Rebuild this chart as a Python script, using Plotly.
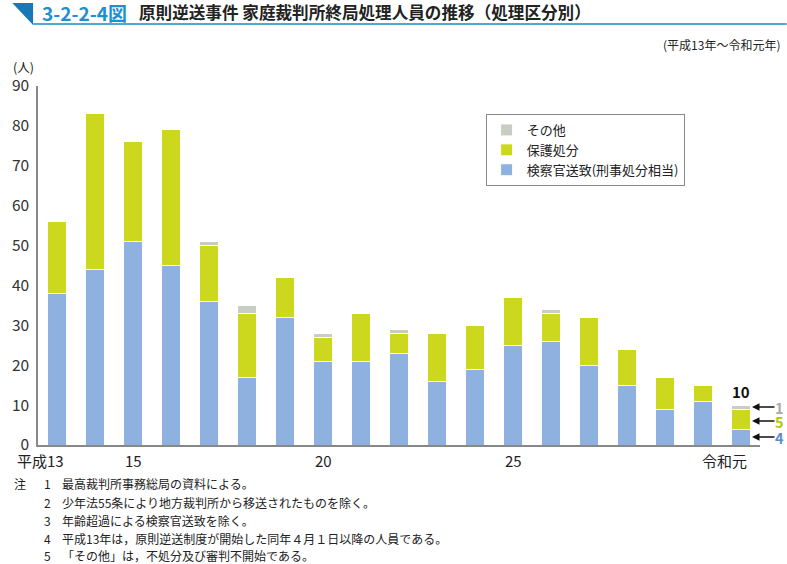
import plotly.graph_objects as go

years = ["平成13", "14", "15", "16", "17", "18", "19", "20", "21", "22",
         "23", "24", "25", "26", "27", "28", "29", "30", "令和元"]
tick_labels = ["平成13", "", "15", "", "", "", "", "20", "", "",
               "", "", "25", "", "", "", "", "", "令和元"]
prosecutor = [38, 44, 51, 45, 36, 17, 32, 21, 21, 23, 16, 19, 25, 26, 20, 15, 9, 11, 4]
protective = [18, 39, 25, 34, 14, 16, 10, 6, 12, 5, 12, 11, 12, 7, 12, 9, 8, 4, 5]
other = [0, 0, 0, 0, 1, 2, 0, 1, 0, 1, 0, 0, 0, 1, 0, 0, 0, 0, 1]

names = ["検察官送致(刑事処分相当)", "保護処分", "その他"]
colors = ["#8fb1e0", "#cbd81e", "#c9ccc2"]
FONT = "Noto Sans CJK JP"

xs = list(range(len(years)))
fig = go.Figure()
for i, (vals, nm, col) in enumerate(zip([prosecutor, protective, other], names, colors)):
    fig.add_trace(go.Bar(
        x=xs, y=vals, name=nm, legendgroup=str(i),
        marker=dict(color=col, line=dict(color="white", width=1)),
    ))

fig.update_layout(
    width=787, height=564,
    barmode="stack", bargap=0.48,
    plot_bgcolor="white", paper_bgcolor="white",
    margin=dict(l=30, r=27, t=86, b=119),
    font=dict(family=FONT, color="#222", size=14),
    showlegend=True,
    legend=dict(x=0.62, y=0.922, xanchor="left", yanchor="top",
                bordercolor="#888", borderwidth=1, bgcolor="white",
                traceorder="reversed", tracegroupgap=4,
                font=dict(size=13, family=FONT, color="#222")),
    xaxis=dict(range=[-0.5, 18.5], showticklabels=False,
               showline=True, linecolor="#888", linewidth=1.5, ticks="",
               showgrid=False, zeroline=False),
    yaxis=dict(range=[0, 90], dtick=10, showline=True, linecolor="#888", linewidth=1.5,
               showgrid=False, zeroline=False, ticks="", tickfont=dict(size=15.5, color="#333"),
               ticklabelstandoff=4),
)

# X tick labels (era prefix sits left of the year digit centred on the bar)
for xi, lab in zip(xs, tick_labels):
    if not lab:
        continue
    if lab.startswith("平成"):
        anchor, shift = "right", 9
    elif lab.startswith("令和"):
        anchor, shift = "right", 8
    else:
        anchor, shift = "center", 0
    fig.add_annotation(text=lab, x=xi, xref="x", y=0, yref="paper", xanchor=anchor,
                       xshift=shift, yanchor="middle", yshift=-15, showarrow=False,
                       font=dict(size=15, color="#222"))

# Title decoration
fig.add_shape(type="path", xref="paper", yref="paper",
              path="M -0.0356 1.2312 L -0.0068 1.2312 L -0.0068 1.1699 Z",
              fillcolor="#1a78b8", line=dict(width=0))
fig.add_shape(type="line", xref="paper", yref="paper",
              x0=-0.0068, x1=1.037, y0=1.1727, y1=1.1727,
              line=dict(color="#1a8ac4", width=1.5))
fig.add_annotation(text="<b>3-2-2-4図</b>", xref="paper", yref="paper",
                   x=(32 - 30) / 730, y=(445 - 12) / 359, xanchor="left", yanchor="middle",
                   showarrow=False, font=dict(size=19, color="#1f8fcf", family=FONT))
fig.add_annotation(text="<b>原則逆送事件 家庭裁判所終局処理人員の推移（処理区分別）</b>",
                   xref="paper", yref="paper",
                   x=(130 - 30) / 730, y=(445 - 12) / 359, xanchor="left", yanchor="middle",
                   showarrow=False, font=dict(size=16.6, color="#222", family=FONT))
fig.add_annotation(text="(平成13年～令和元年)", xref="paper", yref="paper",
                   x=(782 - 30) / 730, y=(445 - 45) / 359, xanchor="right", yanchor="middle",
                   showarrow=False, font=dict(size=12, color="#222", family=FONT))
fig.add_annotation(text="(人)", xref="paper", yref="paper",
                   x=(3 - 30) / 730, y=(445 - 67) / 359, xanchor="left", yanchor="middle",
                   showarrow=False, font=dict(size=12.5, color="#222", family=FONT))

# Last-year breakdown labels
last = len(years) - 1
b, g, o = prosecutor[last], protective[last], other[last]
total = b + g + o
fig.add_annotation(text="<b>%d</b>" % total, x=last, y=total, yanchor="bottom",
                   showarrow=False, font=dict(size=15, color="#111"), yshift=1)
for val, ymid, col, ys_ in [(o, b + g + o / 2, "#a8aca4", 0), (g, b + g / 2, "#b5c400", -2),
                            (b, b / 2, "#5b8fd0", 0)]:
    fig.add_annotation(x=last, y=ymid, ax=24, ay=0, axref="pixel", ayref="pixel",
                       xshift=11, yshift=ys_, text="", showarrow=True, arrowhead=2, arrowsize=1,
                       arrowwidth=1.5, arrowcolor="#111")
    fig.add_annotation(text="<b>%d</b>" % val, x=last, y=ymid, xshift=38, yshift=ys_,
                       xanchor="center", showarrow=False, font=dict(size=14.5, color=col))

# Notes
notes = [
    ("注", "1", "最高裁判所事務総局の資料による。"),
    ("", "2", "少年法55条により地方裁判所から移送されたものを除く。"),
    ("", "3", "年齢超過による検察官送致を除く。"),
    ("", "4", "平成13年は，原則逆送制度が開始した同年４月１日以降の人員である。"),
    ("", "5", "「その他」は，不処分及び審判不開始である。"),
]
ys = [483, 502, 520, 538, 555]
for (a, n, t), yy in zip(notes, ys):
    yp = (445 - yy) / 359
    if a:
        fig.add_annotation(text=a, xref="paper", yref="paper", x=(4 - 30) / 730, y=yp,
                           xanchor="left", yanchor="middle", showarrow=False,
                           font=dict(size=12, color="#222"))
    fig.add_annotation(text=n, xref="paper", yref="paper", x=(34 - 30) / 730, y=yp,
                       xanchor="left", yanchor="middle", showarrow=False,
                       font=dict(size=12, color="#222"))
    fig.add_annotation(text=t, xref="paper", yref="paper", x=(52 - 30) / 730, y=yp,
                       xanchor="left", yanchor="middle", showarrow=False,
                       font=dict(size=12, color="#222"))

fig.write_html("out.html", config={"displayModeBar": False},
               post_script="document.body.style.margin='0';document.body.style.overflow='hidden';")
